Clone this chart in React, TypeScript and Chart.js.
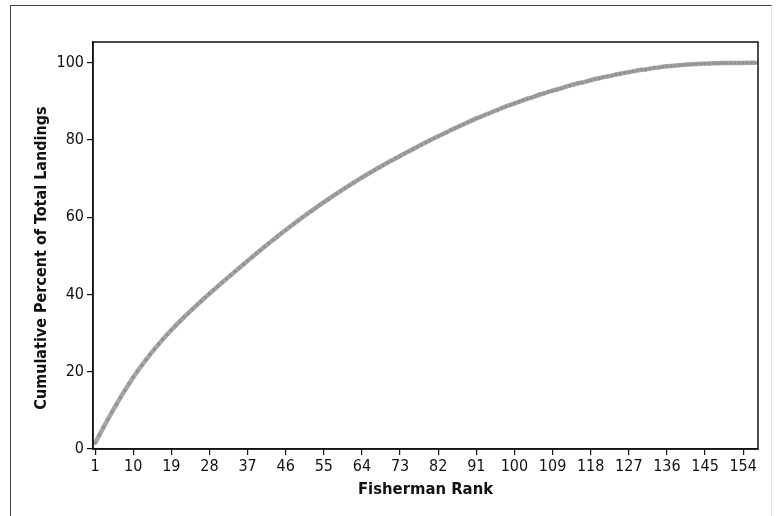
import React, { useEffect, useRef } from "react";
import { Chart, registerables } from "chart.js";

Chart.register(...registerables);

const xTickValues = [1, 10, 19, 28, 37, 46, 55, 64, 73, 82, 91, 100, 109, 118, 127, 136, 145, 154];
const yTickValues = [0, 20, 40, 60, 80, 100];
const xTitle = "Fisherman Rank";
const yTitle = "Cumulative Percent of Total Landings";

// Cumulative percent of total landings, one value per fisherman rank (1..157)
const cumulativePercent = [
  1.5, 3.6, 5.65, 7.65, 9.6, 11.5, 13.35, 15.15, 16.9, 18.6,
  20.15, 21.65, 23.1, 24.5, 25.85, 27.15, 28.41, 29.63, 30.81, 31.95,
  33.06, 34.14, 35.2, 36.24, 37.26, 38.26, 39.25, 40.23, 41.2, 42.16,
  43.11, 44.06, 45.0, 45.94, 46.87, 47.8, 48.72, 49.64, 50.55, 51.46,
  52.36, 53.25, 54.13, 55.0, 55.86, 56.71, 57.55, 58.38, 59.2, 60.01,
  60.81, 61.6, 62.38, 63.15, 63.91, 64.66, 65.4, 66.13, 66.85, 67.56,
  68.26, 68.95, 69.63, 70.3, 70.96, 71.61, 72.25, 72.88, 73.5, 74.11,
  74.71, 75.31, 75.9, 76.49, 77.07, 77.65, 78.22, 78.79, 79.35, 79.91,
  80.45, 81.0, 81.5, 82.0, 82.6, 83.1, 83.6, 84.1, 84.6, 85.1,
  85.6, 86.0, 86.5, 86.9, 87.4, 87.8, 88.3, 88.7, 89.1, 89.5,
  89.9, 90.3, 90.7, 91.0, 91.4, 91.8, 92.1, 92.5, 92.8, 93.1,
  93.4, 93.8, 94.1, 94.4, 94.7, 94.9, 95.2, 95.5, 95.8, 96.0,
  96.3, 96.5, 96.7, 97.0, 97.2, 97.4, 97.6, 97.8, 98.0, 98.2,
  98.3, 98.5, 98.7, 98.8, 99.0, 99.1, 99.2, 99.3, 99.4, 99.5,
  99.6, 99.65, 99.7, 99.75, 99.8, 99.85, 99.9, 99.92, 99.94, 99.96,
  99.97, 99.98, 99.99, 99.99, 100, 100, 100,
];
const ranks = cumulativePercent.map((_, i) => i + 1);

const FONT = "'DejaVu Sans Condensed', 'DejaVu Sans', sans-serif";

const framePlugin = {
  id: "frame",
  afterDraw(chart: any) {
    const { ctx, chartArea } = chart;
    ctx.save();
    ctx.strokeStyle = "#111";
    ctx.lineWidth = 1.5;
    ctx.strokeRect(chartArea.left, chartArea.top, chartArea.right - chartArea.left, chartArea.bottom - chartArea.top);
    // y-axis title
    ctx.translate(42, 258);
    ctx.rotate(-Math.PI / 2);
    ctx.fillStyle = "#111";
    ctx.font = `bold 16px ${FONT}`;
    ctx.textAlign = "center";
    ctx.textBaseline = "middle";
    ctx.fillText(yTitle, 0, 0);
    ctx.restore();
  },
};

export default function App() {
  const ref = useRef<HTMLCanvasElement | null>(null);
  useEffect(() => {
    if (!ref.current) return;
    const chart = new Chart(ref.current, {
      type: "line",
      data: {
        datasets: [
          {
            data: ranks.map((r, i) => ({ x: r, y: cumulativePercent[i] })),
            borderColor: "#a6a6a6",
            backgroundColor: "#9a9a9a",
            borderWidth: 4.5,
            pointRadius: 1.8,
            pointBorderWidth: 0,
            pointBackgroundColor: "#939393",
            tension: 0,
          },
        ],
      },
      options: {
        animation: false,
        responsive: false,
        maintainAspectRatio: false,
        layout: { padding: { left: 0, top: 42, right: 21, bottom: 0 } },
        plugins: { legend: { display: false }, tooltip: { enabled: false } },
        scales: {
          x: {
            type: "linear",
            min: 0.5,
            max: 157.5,
            afterBuildTicks: (s: any) => {
              s.ticks = xTickValues.map((v) => ({ value: v }));
            },
            afterFit: (s: any) => {
              s.height = 67;
            },
            grid: { display: true, drawOnChartArea: false, drawTicks: true, tickLength: 6, color: "#111", lineWidth: 1.2 },
            border: { display: true, color: "#111", width: 1.5 },
            ticks: {
              autoSkip: false,
              maxRotation: 0,
              padding: 2,
              color: "#111",
              font: { family: FONT, size: 16 },
              callback: (v: any) => String(v),
            },
            title: {
              display: true,
              text: xTitle,
              color: "#111",
              font: { family: FONT, size: 16.5, weight: "bold" },
              padding: { top: 0, bottom: 16 },
            },
          },
          y: {
            type: "linear",
            min: 0,
            max: 105.4,
            afterBuildTicks: (s: any) => {
              s.ticks = yTickValues.map((v) => ({ value: v }));
            },
            afterFit: (s: any) => {
              s.width = 93;
            },
            grid: { display: true, drawOnChartArea: false, drawTicks: true, tickLength: 6, color: "#111", lineWidth: 1.2 },
            border: { display: true, color: "#111", width: 1.5 },
            ticks: {
              padding: 3,
              color: "#111",
              font: { family: FONT, size: 16 },
              callback: (v: any) => String(v),
            },
          },
        },
      },
      plugins: [framePlugin],
    });
    return () => chart.destroy();
  }, []);

  return (
    <div style={{ position: "fixed", left: 0, top: 0, width: 779, height: 516, background: "#fff" }}>
      <div
        style={{
          position: "absolute",
          left: 10,
          top: 5,
          width: 762,
          height: 520,
          borderLeft: "1.5px solid #444",
          borderTop: "1.5px solid #444",
          borderRight: "1px solid #ddd",
          boxSizing: "border-box",
        }}
      />
      <canvas ref={ref} width={779} height={516} style={{ position: "absolute", left: 0, top: 0 }} />
    </div>
  );
}
